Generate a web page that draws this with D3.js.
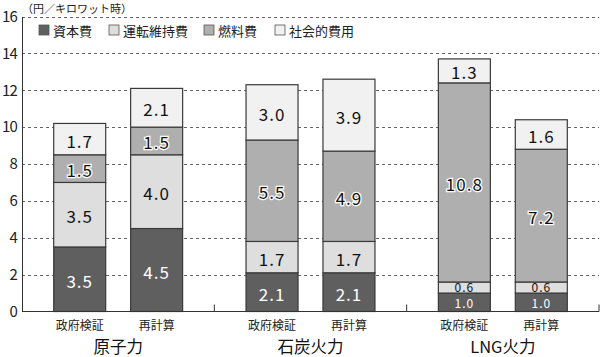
<!DOCTYPE html>
<html><head><meta charset="utf-8">
<script src="https://cdn.jsdelivr.net/npm/d3@7"></script>
<style>body{margin:0;background:#fff}svg{display:block}text{font-family:"Noto Sans CJK JP","Noto Sans",sans-serif}</style>
</head><body>
<svg id="c" width="600" height="357"></svg>
<script>
const groups = ["原子力", "石炭火力", "LNG火力"];
const subs = ["政府検証", "再計算"];
const seriesNames = ["資本費", "運転維持費", "燃料費", "社会的費用"];
// values per bar, order: 原子力(政府検証,再計算), 石炭火力(...), LNG火力(...)
const capital   = [3.5, 4.5, 2.1, 2.1, 1.0, 1.0];
const operation = [3.5, 4.0, 1.7, 1.7, 0.6, 0.6];
const fuel      = [1.5, 1.5, 5.5, 4.9, 10.8, 7.2];
const social    = [1.7, 2.1, 3.0, 3.9, 1.3, 1.6];
const yTicks = [0, 2, 4, 6, 8, 10, 12, 14, 16];
const unitLabel = "（円／キロワット時）";

const colors = ["#5f5f5f", "#dedede", "#afafaf", "#f1f1f1"];
const textColors = ["#fff", "#111", "#111", "#111"];
const numFont = "'Liberation Sans',Arial,sans-serif";

const svg = d3.select("#c");
const x0 = 22, x1 = 599, yTop = 16.5, yBot = 311.5;
const y = d3.scaleLinear().domain([0, 16]).range([yBot, yTop]);
const gx = d3.scaleBand().domain(groups).range([x0, x1]);
const sx = d3.scalePoint().domain(subs).range([0, gx.bandwidth()]).padding(0.75);
const barW = 52;

// gridlines
svg.append("g").selectAll("line").data(yTicks.filter(d => d > 0)).join("line")
  .attr("x1", x0).attr("x2", x1).attr("y1", d => Math.round(y(d)) + 0.5).attr("y2", d => Math.round(y(d)) + 0.5)
  .attr("stroke", "#666").attr("stroke-width", 1).attr("stroke-dasharray", "3,3");

// y axis
const yAxis = d3.axisLeft(y).tickValues(yTicks).tickSize(0).tickPadding(5).tickFormat(d3.format("d"));
const ya = svg.append("g").attr("transform", `translate(${x0},0)`).call(yAxis);
ya.select(".domain").attr("stroke", "#333");
ya.selectAll("text").attr("font-size", 15).attr("letter-spacing", -0.8).attr("fill", "#222").attr("font-family", numFont);

// bars
const bars = [];
groups.forEach((g, gi) => subs.forEach((s, si) => {
  const i = gi * 2 + si;
  const vals = [capital[i], operation[i], fuel[i], social[i]];
  let acc = 0;
  const segs = vals.map((v, k) => { const s0 = acc; acc += v; return {k, v, y0: s0, y1: acc}; });
  bars.push({g, s, cx: gx(g) + sx(s), segs});
}));

const small = d => d.v < 1.2;
const bg = svg.append("g").selectAll("g").data(bars).join("g");
bg.selectAll("rect").data(b => b.segs.map(sg => ({...sg, cx: b.cx}))).join("rect")
  .attr("x", d => d.cx - barW / 2).attr("width", barW)
  .attr("y", d => y(d.y1)).attr("height", d => y(d.y0) - y(d.y1))
  .attr("fill", d => colors[d.k]).attr("stroke", "#3a3a3a").attr("stroke-width", 1.2);

bg.selectAll("text").data(b => b.segs.map(sg => ({...sg, cx: b.cx}))).join("text")
  .attr("x", d => d.cx)
  .attr("y", d => (y(d.y0) + y(d.y1)) / 2 + (small(d) ? (d.k === 1 ? -1.5 : 0.5) : 1))
  .attr("text-anchor", "middle").attr("dominant-baseline", "central")
  .attr("font-size", d => small(d) ? 12 : 17).attr("letter-spacing", 1)
  .attr("font-family", numFont)
  .attr("fill", d => textColors[d.k])
  .attr("stroke", d => d.k === 2 ? "#fff" : "none").attr("stroke-width", 2.5).attr("paint-order", "stroke")
  .text(d => d.v.toFixed(1));

// x axis baseline
svg.append("line").attr("x1", x0).attr("x2", x1).attr("y1", yBot).attr("y2", yBot).attr("stroke", "#333").attr("stroke-width", 1.2);
// group separators
svg.append("g").selectAll("line").data(groups).join("line")
  .attr("x1", g => gx(g) + gx.bandwidth()).attr("x2", g => gx(g) + gx.bandwidth())
  .attr("y1", yBot).attr("y2", yBot - 7).attr("stroke", "#333");

// sub labels
svg.append("g").selectAll("text").data(bars).join("text")
  .attr("x", d => d.cx).attr("y", 324).attr("text-anchor", "middle").attr("dominant-baseline", "central")
  .attr("font-size", 12).attr("fill", "#222").text(d => d.s);
// group labels
svg.append("g").selectAll("text").data(groups).join("text")
  .attr("x", g => gx(g) + gx.bandwidth() / 2).attr("y", 345.5).attr("text-anchor", "middle").attr("dominant-baseline", "central")
  .attr("font-size", 16.5).attr("fill", "#111").text(g => g);

// unit label
svg.append("text").attr("x", 22).attr("y", 8).attr("dominant-baseline", "central")
  .attr("font-size", 11).attr("fill", "#222").text(unitLabel);

// legend
const legX = [39, 109, 204, 275];
const leg = svg.append("g").selectAll("g").data(seriesNames).join("g")
  .attr("transform", (d, i) => `translate(${legX[i]},30)`);
leg.append("rect").attr("x", 0).attr("y", -5).attr("width", 10).attr("height", 10)
  .attr("fill", (d, i) => colors[i]).attr("stroke", "#555").attr("stroke-width", 0.8);
leg.append("text").attr("x", 14).attr("y", 0).attr("dominant-baseline", "central")
  .attr("font-size", 13).attr("fill", "#222").text(d => d);
</script>
</body></html>
